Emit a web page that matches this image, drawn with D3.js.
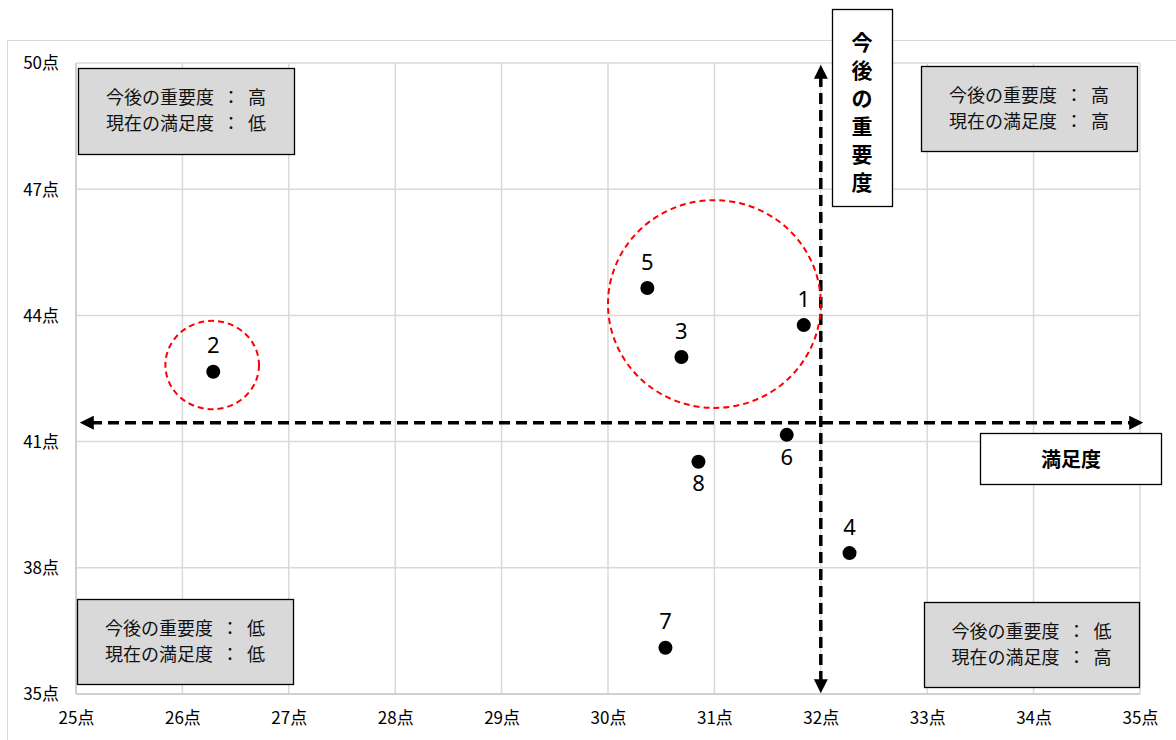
<!DOCTYPE html>
<html><head><meta charset="utf-8">
<script src="https://cdn.jsdelivr.net/npm/d3@7"></script>
<style>body{margin:0;background:#fff}svg{display:block}</style>
</head><body>
<svg id="c" width="1176" height="740"></svg>
<script>
const ids = ["1","2","3","4","5","6","7","8"];
const satisfaction = [31.84, 26.29, 30.69, 32.27, 30.37, 31.68, 30.54, 30.85];
const importance = [43.77, 42.66, 43.01, 38.35, 44.65, 41.16, 36.10, 40.52];
const labelBelow = [false, false, false, false, false, true, false, true];
const xTicks = [25,26,27,28,29,30,31,32,33,34,35];
const yTicks = [35,38,41,44,47,50];
const tickSuffix = "点";
const quadrantTexts = [
  [["今後の重要度","高"],["現在の満足度","低"]],
  [["今後の重要度","高"],["現在の満足度","高"]],
  [["今後の重要度","低"],["現在の満足度","低"]],
  [["今後の重要度","低"],["現在の満足度","高"]]
];
const crossX = 32, crossY = 41.45;
const highlightCircles = [
  {cx: 31.0, cy: 44.27, rx: 1.0, ry: 2.47},
  {cx: 26.28, cy: 42.82, rx: 0.44, ry: 1.05}
];
const importanceTitle = "今後の重要度";
const satisfactionTitle = "満足度";

const svg = d3.select("#c");
const font = "'Noto Sans CJK JP','Noto Sans',sans-serif";
const x = d3.scaleLinear().domain([25,35]).range([76,1140]);
const y = d3.scaleLinear().domain([35,50]).range([694,63]);

// outer chart border
svg.append("rect").attr("x",7.5).attr("y",40.5).attr("width",1180).attr("height",720)
  .attr("fill","#fff").attr("stroke","#d9d9d9");

// grid
const g = svg.append("g");
g.selectAll(".vx").data(xTicks).join("line")
  .attr("x1",d=>x(d)).attr("x2",d=>x(d)).attr("y1",y(50)).attr("y2",y(35))
  .attr("stroke","#d9d9d9").attr("stroke-width",1.5);
g.selectAll(".hy").data(yTicks).join("line")
  .attr("y1",d=>y(d)).attr("y2",d=>y(d)).attr("x1",x(25)).attr("x2",x(35))
  .attr("stroke","#d9d9d9").attr("stroke-width",1.5);
g.append("line").attr("x1",x(25)).attr("x2",x(25)).attr("y1",y(50)).attr("y2",y(35)).attr("stroke","#d0d0d0").attr("stroke-width",2);
g.append("line").attr("x1",x(25)).attr("x2",x(35)).attr("y1",y(35)).attr("y2",y(35)).attr("stroke","#d0d0d0").attr("stroke-width",2);

// axes via d3
const xAxis = d3.axisBottom(x).tickValues(xTicks).tickSize(0).tickFormat(d=>d+tickSuffix);
const ax = svg.append("g").attr("transform",`translate(0,${y(35)})`).call(xAxis);
ax.attr("font-size",null).attr("font-family",null);
ax.select(".domain").remove();
ax.selectAll("text").attr("dy",0).attr("y",30).style("font-size","17px").style("font-family",font).attr("fill","#000");
const yAxis = d3.axisLeft(y).tickValues(yTicks).tickSize(0).tickFormat(d=>d+tickSuffix);
const ay = svg.append("g").attr("transform",`translate(${x(25)},0)`).call(yAxis);
ay.attr("font-size",null).attr("font-family",null);
ay.select(".domain").remove();
ay.selectAll("text").attr("x",-17).attr("dy","0.35em").style("font-size","17px").style("font-family",font).attr("fill","#000");

// quadrant boxes
const boxes = [
  {x0:78,y0:68,x1:294,y1:154},
  {x0:921,y0:66,x1:1137,y1:151},
  {x0:77,y0:599,x1:293,y1:684},
  {x0:924,y0:602,x1:1139,y1:687}
];
boxes.forEach((b,i)=>{
  svg.append("rect").attr("x",b.x0+0.5).attr("y",b.y0+0.5).attr("width",b.x1-b.x0).attr("height",b.y1-b.y0)
    .attr("fill","#d9d9d9").attr("stroke","#000").attr("stroke-width",1.3);
  const cxm=(b.x0+b.x1)/2, cym=(b.y0+b.y1)/2;
  quadrantTexts[i].forEach((t,j)=>{
    const tx = svg.append("text").attr("x",cxm).attr("y",cym+(j===0?-13:13)).attr("dy","0.35em")
      .attr("text-anchor","middle").attr("font-size",18).attr("font-family",font).attr("fill","#111");
    tx.append("tspan").text(t[0]);
    tx.append("tspan").attr("dx",8).text("：");
    tx.append("tspan").attr("dx",8).text(t[1]);
  });
});

// arrow markers
const defs = svg.append("defs");
defs.append("marker").attr("id","ah").attr("viewBox","0 0 10 10").attr("refX",2).attr("refY",5)
  .attr("markerWidth",4).attr("markerHeight",4).attr("orient","auto-start-reverse").attr("markerUnits","strokeWidth")
  .append("path").attr("d","M0,0 L10,5 L0,10 Z").attr("fill","#000");

// cross arrows
svg.append("line").attr("x1",x(25)+15).attr("x2",x(35)-8).attr("y1",y(crossY)).attr("y2",y(crossY))
  .attr("stroke","#000").attr("stroke-width",3.5).attr("stroke-dasharray","11,6")
  .attr("marker-start","url(#ah)").attr("marker-end","url(#ah)");
svg.append("line").attr("x1",x(crossX)).attr("x2",x(crossX)).attr("y1",y(50)+13).attr("y2",y(35)-12)
  .attr("stroke","#000").attr("stroke-width",3.5).attr("stroke-dasharray","11,6")
  .attr("marker-start","url(#ah)").attr("marker-end","url(#ah)");

// highlight circles
svg.selectAll(".hc").data(highlightCircles).join("ellipse")
  .attr("cx",d=>x(d.cx)).attr("cy",d=>y(d.cy))
  .attr("rx",d=>x(d.cx+d.rx)-x(d.cx)).attr("ry",d=>y(d.cy)-y(d.cy+d.ry))
  .attr("fill","none").attr("stroke","#ff0000").attr("stroke-width",2).attr("stroke-dasharray","6,4");

// points
const pts = ids.map((id,i)=>({id,x:satisfaction[i],y:importance[i],below:labelBelow[i]}));
svg.selectAll(".pt").data(pts).join("circle")
  .attr("cx",d=>x(d.x)).attr("cy",d=>y(d.y)).attr("r",7).attr("fill","#000");
svg.selectAll(".pl").data(pts).join("text")
  .attr("x",d=>x(d.x)).attr("y",d=>y(d.y)+(d.below?22:-26)).attr("dy","0.35em")
  .attr("text-anchor","middle").attr("font-size",22).attr("font-family","'Noto Sans',sans-serif").attr("fill","#000")
  .text(d=>d.id);

// title boxes
svg.append("rect").attr("x",832.5).attr("y",9.5).attr("width",60).attr("height",197).attr("fill","#fff").attr("stroke","#000").attr("stroke-width",1.3);
importanceTitle.split("").forEach((ch,i)=>{
  svg.append("text").attr("x",862).attr("y",43+i*28).attr("dy","0.35em").attr("text-anchor","middle")
    .attr("font-size",21).attr("font-weight","bold").attr("font-family",font).text(ch);
});
svg.append("rect").attr("x",980.5).attr("y",433.5).attr("width",181).attr("height",51).attr("fill","#fff").attr("stroke","#000").attr("stroke-width",1.3);
svg.append("text").attr("x",1071).attr("y",460).attr("dy","0.35em").attr("text-anchor","middle")
  .attr("font-size",20).attr("font-weight","bold").attr("font-family",font).text(satisfactionTitle);
</script>
</body></html>
